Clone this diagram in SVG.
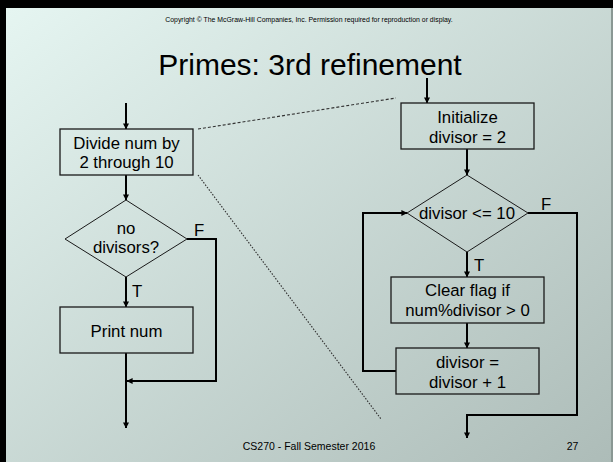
<svg xmlns="http://www.w3.org/2000/svg" width="613" height="462" viewBox="0 0 613 462">
  <defs>
    <linearGradient id="bg" x1="0" y1="0" x2="1" y2="1">
      <stop offset="0" stop-color="#e6f6f2"/>
      <stop offset="1" stop-color="#adbcb8"/>
    </linearGradient>
    <marker id="arrow" viewBox="0 0 8 8" refX="7.5" refY="4" markerWidth="6" markerHeight="6" markerUnits="userSpaceOnUse" orient="auto">
      <path d="M0,0 L8,4 L0,8 Z" fill="#000"/>
    </marker>
    <style>
      .box { fill: none; stroke: #1a1a1a; stroke-width: 1.3; }
      .dia { fill: none; stroke: #1a1a1a; stroke-width: 1; }
      .flow { fill: none; stroke: #000; stroke-width: 2; }
      .arr { marker-end: url(#arrow); }
      .lbl { font-family: "Liberation Sans", Arial, sans-serif; font-size: 16.8px; fill: #000; text-anchor: middle; }
      .tf { font-family: "Liberation Sans", Arial, sans-serif; font-size: 16.8px; fill: #000; }
      .zoom { fill: none; stroke: #333; stroke-width: 1.1; }
    </style>
  </defs>

  <!-- slide background and frame -->
  <rect x="0" y="0" width="613" height="462" fill="url(#bg)"/>
  <rect x="0" y="0" width="613" height="8" fill="#000"/>
  <rect x="0" y="0" width="6" height="462" fill="#000"/>
  <rect x="611" y="8" width="2" height="454" fill="#8a9894"/>

  <text x="309" y="22" font-family="Liberation Sans, Arial, sans-serif" font-size="6.9" text-anchor="middle" fill="#000">Copyright © The McGraw-Hill Companies, Inc.  Permission required for reproduction or display.</text>
  <text x="310" y="75" font-family="Liberation Sans, Arial, sans-serif" font-size="30" text-anchor="middle" fill="#000">Primes: 3rd refinement</text>

  <!-- connectors -->
  <g id="connectors">
    <!-- left chart -->
    <path class="flow arr" d="M126,103 V129"/>
    <path class="flow arr" d="M126,175 V200"/>
    <path class="flow arr" d="M126,277 V307"/>
    <path class="flow arr" d="M187,239 H216 V381 H127"/>
    <path class="flow arr" d="M126,353 V428"/>
    <!-- right chart -->
    <path class="flow arr" d="M427,78 V103"/>
    <path class="flow arr" d="M467,149 V175"/>
    <path class="flow arr" d="M467,252 V277"/>
    <path class="flow arr" d="M467,323 V348"/>
    <path class="flow arr" d="M396,371 H363 V213 H407"/>
    <path class="flow arr" d="M528,213 H577 V415 H467 V438"/>
    <!-- expansion guides -->
    <path class="zoom" d="M198,129 L396,98" stroke-dasharray="3 2"/>
    <path class="zoom" d="M198,175 L381,419" stroke-dasharray="1.5 1.5"/>
  </g>

  <text class="tf" x="194" y="236">F</text>
  <text class="tf" x="132" y="297">T</text>
  <text class="tf" x="541" y="210">F</text>
  <text class="tf" x="474" y="271">T</text>

  <g id="divide">
    <rect class="box" x="60" y="129" width="133" height="46"/>
    <text class="lbl" x="126.5" y="149">Divide num by</text>
    <text class="lbl" x="126.5" y="168">2 through 10</text>
  </g>

  <g id="no-divisors">
    <polygon class="dia" points="126,200 187,239 126,277 65,239"/>
    <text class="lbl" x="126" y="234">no</text>
    <text class="lbl" x="126" y="253">divisors?</text>
  </g>

  <g id="print">
    <rect class="box" x="60" y="307" width="133" height="46"/>
    <text class="lbl" x="126.5" y="337">Print num</text>
  </g>

  <g id="init">
    <rect class="box" x="401" y="103" width="133" height="46"/>
    <text class="lbl" x="467.5" y="123">Initialize</text>
    <text class="lbl" x="467.5" y="143">divisor = 2</text>
  </g>

  <g id="test">
    <polygon class="dia" points="467,175 528,213 467,252 407,213"/>
    <text class="lbl" x="467" y="219">divisor &lt;= 10</text>
  </g>

  <g id="clear">
    <rect class="box" x="391" y="277" width="153" height="46"/>
    <text class="lbl" x="467.5" y="296">Clear flag if</text>
    <text class="lbl" x="467.5" y="316">num%divisor &gt; 0</text>
  </g>

  <g id="increment">
    <rect class="box" x="396" y="348" width="143" height="46"/>
    <text class="lbl" x="467.5" y="368">divisor =</text>
    <text class="lbl" x="467.5" y="388">divisor + 1</text>
  </g>

  <text x="309" y="450" font-family="Liberation Sans, Arial, sans-serif" font-size="10.5" text-anchor="middle" fill="#000">CS270 - Fall Semester 2016</text>
  <text x="572.5" y="450" font-family="Liberation Sans, Arial, sans-serif" font-size="10.5" text-anchor="middle" fill="#000">27</text>
</svg>
